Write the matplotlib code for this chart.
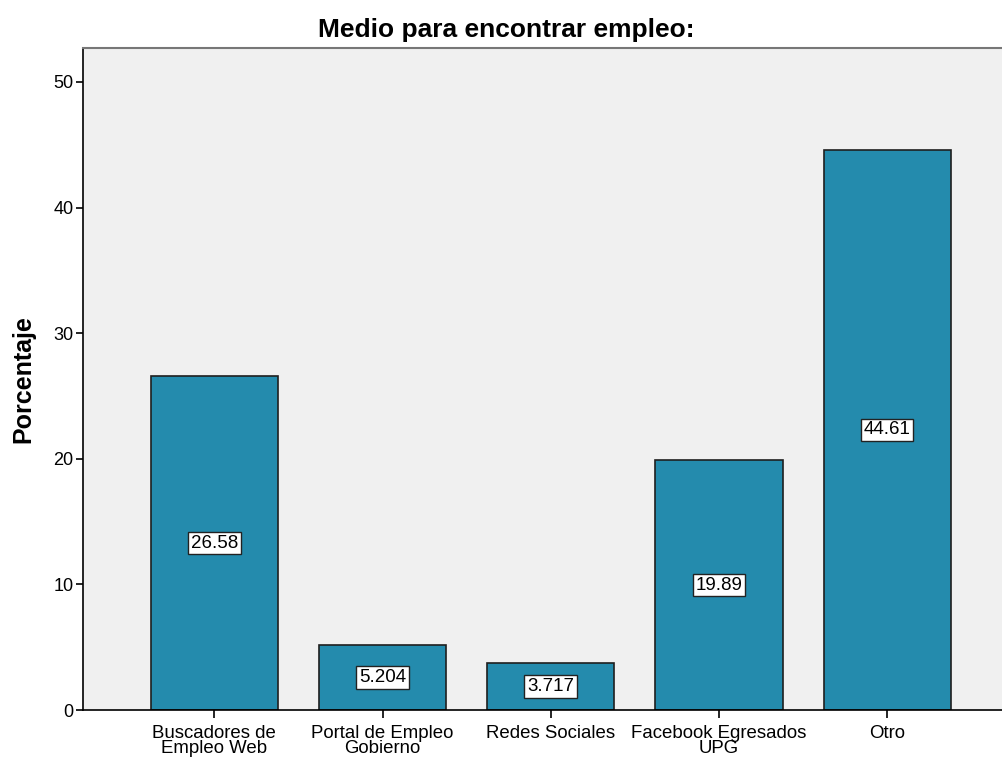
import matplotlib
matplotlib.use("Agg")
import matplotlib.pyplot as plt
import numpy as np

categories = ['Buscadores de\nEmpleo Web', 'Portal de Empleo\nGobierno', 'Redes Sociales',
              'Facebook Egresados\nUPG', 'Otro']
values = [26.58, 5.204, 3.717, 19.89, 44.61]
value_labels = ['26.58', '5.204', '3.717', '19.89', '44.61']
yticks = [0, 10, 20, 30, 40, 50]

plt.rcParams['font.family'] = ['Liberation Sans', 'DejaVu Sans']

fig = plt.figure(figsize=(10.03, 7.58), dpi=100)
ax = fig.add_axes([0.0828, 0.0633, 0.9172, 0.8734])
ax.set_facecolor('#f0f0f0')

x = np.arange(len(categories))
ax.bar(x, values, width=0.755, color='#248bad', edgecolor='#1f1f1f', linewidth=1.2, zorder=2)

# etiquetas de valor en el centro de cada barra
for xi, v, lab in zip(x, values, value_labels):
    ax.text(xi, v / 2, lab, ha='center', va='center', fontsize=13.5, zorder=3,
            bbox=dict(boxstyle='square,pad=0.15', facecolor='white', edgecolor='#222222', linewidth=1))

ax.set_xlim(-0.78, 4.688)
ax.set_ylim(0, 52.7)
ax.set_xticks(x)
ax.set_xticklabels(categories, fontsize=13.4, linespacing=0.8)
ax.set_yticks(yticks)
ax.tick_params(axis='y', labelsize=13, length=5, width=1.2, pad=2)
ax.tick_params(axis='x', length=6, width=1.2, pad=5)

ax.spines['left'].set_linewidth(1.2)
ax.spines['bottom'].set_linewidth(1.2)
ax.spines['top'].set_color('#777777')
ax.spines['top'].set_linewidth(1.5)
ax.spines['right'].set_visible(False)

ax.set_ylabel('Porcentaje', fontsize=18, fontweight='bold', labelpad=13)
fig.text(0.5045, 1 - 37 / 758, 'Medio para encontrar empleo:', fontsize=19, fontweight='bold',
         ha='center', va='baseline')

fig.savefig('out.png', dpi=100)
